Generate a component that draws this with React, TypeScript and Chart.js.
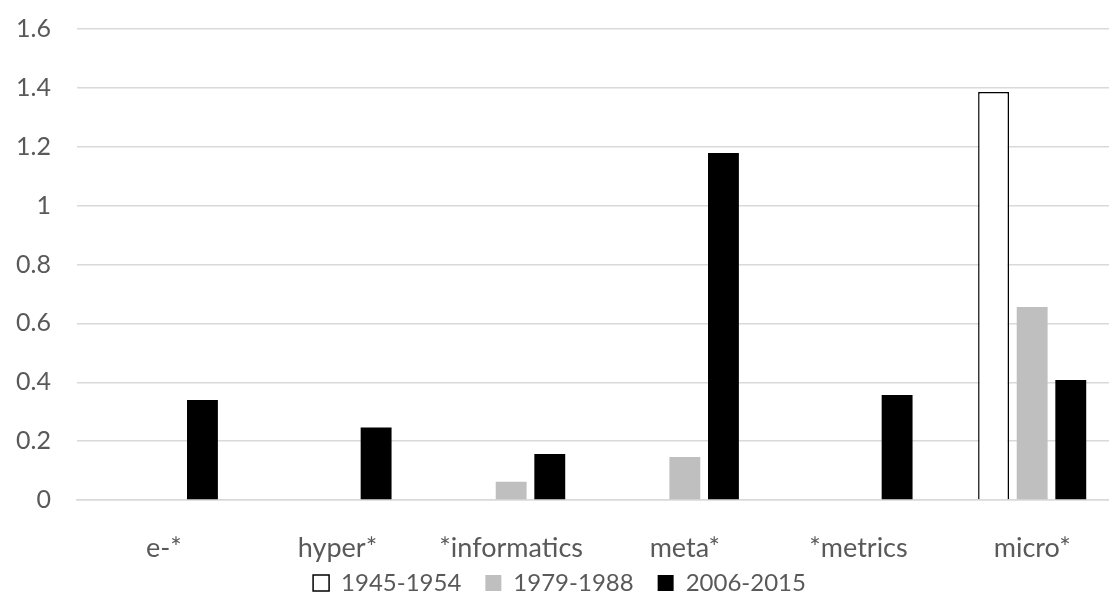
import React, { useEffect, useRef } from "react";
import { Chart, registerables } from "chart.js";

Chart.register(...registerables);

const categories = ["e-*", "hyper*", "*informatics", "meta*", "*metrics", "micro*"];
const series1945 = [0, 0, 0, 0, 0, 1.386];
const series1979 = [0, 0, 0.062, 0.146, 0, 0.656];
const series2006 = [0.34, 0.246, 0.156, 1.179, 0.357, 0.408];
const yTicks = [0, 0.2, 0.4, 0.6, 0.8, 1, 1.2, 1.4, 1.6];

const FONT = "Lato, 'Open Sans', sans-serif";
const TEXT = "#595959";
const LEGEND_PAD = 24;
const LEGEND_FONT = 24;

const legendPlacePlugin = {
  id: "legendPlace",
  beforeLayout(chart: any) {
    const lg = chart.legend;
    if (lg && !lg._patched) {
      const f = lg.fit.bind(lg);
      lg.fit = function () {
        f();
        this.height = 33;
      };
      lg._patched = true;
    }
  },
  afterLayout(chart: any) {
    const lg = chart.legend;
    if (lg) {
      const top = 583 - LEGEND_PAD - LEGEND_FONT / 2;
      lg.top = top;
      lg.bottom = 603;
      lg.height = 603 - top;
    }
  },
};

export default function App() {
  const ref = useRef<HTMLCanvasElement | null>(null);
  useEffect(() => {
    if (!ref.current) return;
    const chart = new Chart(ref.current, {
      type: "bar",
      data: {
        labels: categories,
        datasets: [
          { label: "1945-1954", data: series1945, backgroundColor: "#ffffff", borderColor: "#000000", borderWidth: 1.5 },
          { label: "1979-1988", data: series1979, backgroundColor: "#bfbfbf", borderWidth: 0 },
          { label: "2006-2015", data: series2006, backgroundColor: "#000000", borderWidth: 0 },
        ],
      },
      plugins: [legendPlacePlugin],
      options: {
        responsive: false,
        animation: false,
        datasets: { bar: { categoryPercentage: 0.667, barPercentage: 0.8 } },
        layout: { padding: { top: 29, right: 6, left: 0, bottom: 0 } },
        scales: {
          x: {
            afterFit: (s: any) => { s.height = 70; },
            grid: { display: false, drawTicks: false },
            border: { display: true, color: "#d9d9d9", width: 1.5 },
            ticks: { color: TEXT, font: { family: FONT, size: 27 }, padding: 32 },
          },
          y: {
            min: 0,
            max: 1.6,
            afterBuildTicks: (s: any) => { s.ticks = yTicks.map((v) => ({ value: v })); },
            afterFit: (s: any) => { s.width = 77; s.paddingTop = 0; s.paddingBottom = 0; },
            grid: { color: "#d9d9d9", lineWidth: 1.5, drawTicks: false },
            border: { display: false },
            ticks: {
              color: TEXT,
              font: { family: FONT, size: 25 },
              padding: 26,
              callback: (v: any) => String(Math.round(Number(v) * 10) / 10),
            },
          },
        },
        plugins: {
          legend: {
            position: "bottom",
            labels: {
              color: TEXT,
              font: { family: FONT, size: LEGEND_FONT },
              boxWidth: 16,
              boxHeight: 16,
              padding: LEGEND_PAD,
            },
          },
          tooltip: { enabled: false },
        },
      },
    });
    return () => chart.destroy();
  }, []);
  return (
    <div style={{ position: "absolute", left: 0, top: 0, width: 1109, height: 603, overflow: "hidden", background: "#fff" }}>
      <canvas ref={ref} width={1125} height={603} style={{ display: "block" }} />
    </div>
  );
}
